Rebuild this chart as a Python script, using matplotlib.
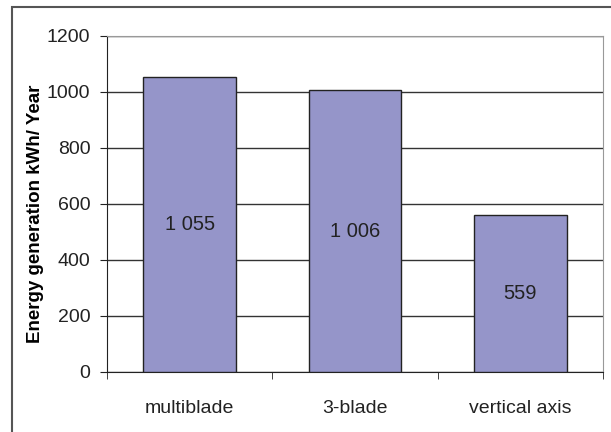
import matplotlib.pyplot as plt
from matplotlib.patches import Rectangle

plt.rcParams['font.family'] = ['Liberation Sans', 'DejaVu Sans']

categories = ["multiblade", "3-blade", "vertical axis"]
energy = [1055, 1006, 559]
value_labels = ["1 055", "1 006", "559"]

fig = plt.figure(figsize=(6.11, 4.32), dpi=100)
ax = fig.add_axes([107 / 611, 1 - 372 / 432, (603 - 107) / 611, (372 - 36) / 432])

x = list(range(len(categories)))
bars = ax.bar(x, energy, width=0.56, color="#9595c9", edgecolor="#222222",
              linewidth=1, zorder=3)

# value labels sit in the middle of each bar
for b, lab in zip(bars, value_labels):
    ax.text(b.get_x() + b.get_width() / 2, b.get_height() / 2, lab,
            ha="center", va="center", fontsize=14.5, color="#222222", zorder=4)

ax.set_xlim(-0.5, len(categories) - 0.5)
ax.set_ylim(0, 1200)
ax.set_yticks(range(0, 1201, 200))
ax.yaxis.grid(True, color="#333333", linewidth=1, zorder=0)
ax.set_xticks(x)
ax.set_xticklabels(categories, fontsize=14)
ax.set_xticks([i - 0.5 for i in range(len(categories) + 1)], minor=True)
ax.tick_params(axis="x", which="major", length=0, pad=20, colors="#222222")
ax.tick_params(axis="x", which="minor", length=5, color="#222222")
ax.tick_params(axis="y", length=5, pad=7, labelsize=14, colors="#222222")

ax.set_ylabel("Energy generation kWh/ Year", fontsize=13.5, fontweight="bold")
ax.yaxis.set_label_coords(-0.127, 0.47)

for s in ["left", "bottom"]:
    ax.spines[s].set_color("#222222")
for s in ["top", "right"]:
    ax.spines[s].set_color("#999999")

# outer chart frame
fig.patches.append(Rectangle((12 / 611, -0.05), 1.2, 1 - 7 / 432 + 0.05,
                             transform=fig.transFigure, fill=False,
                             edgecolor="#555555", linewidth=1.5))

fig.savefig("out.png", dpi=100)
